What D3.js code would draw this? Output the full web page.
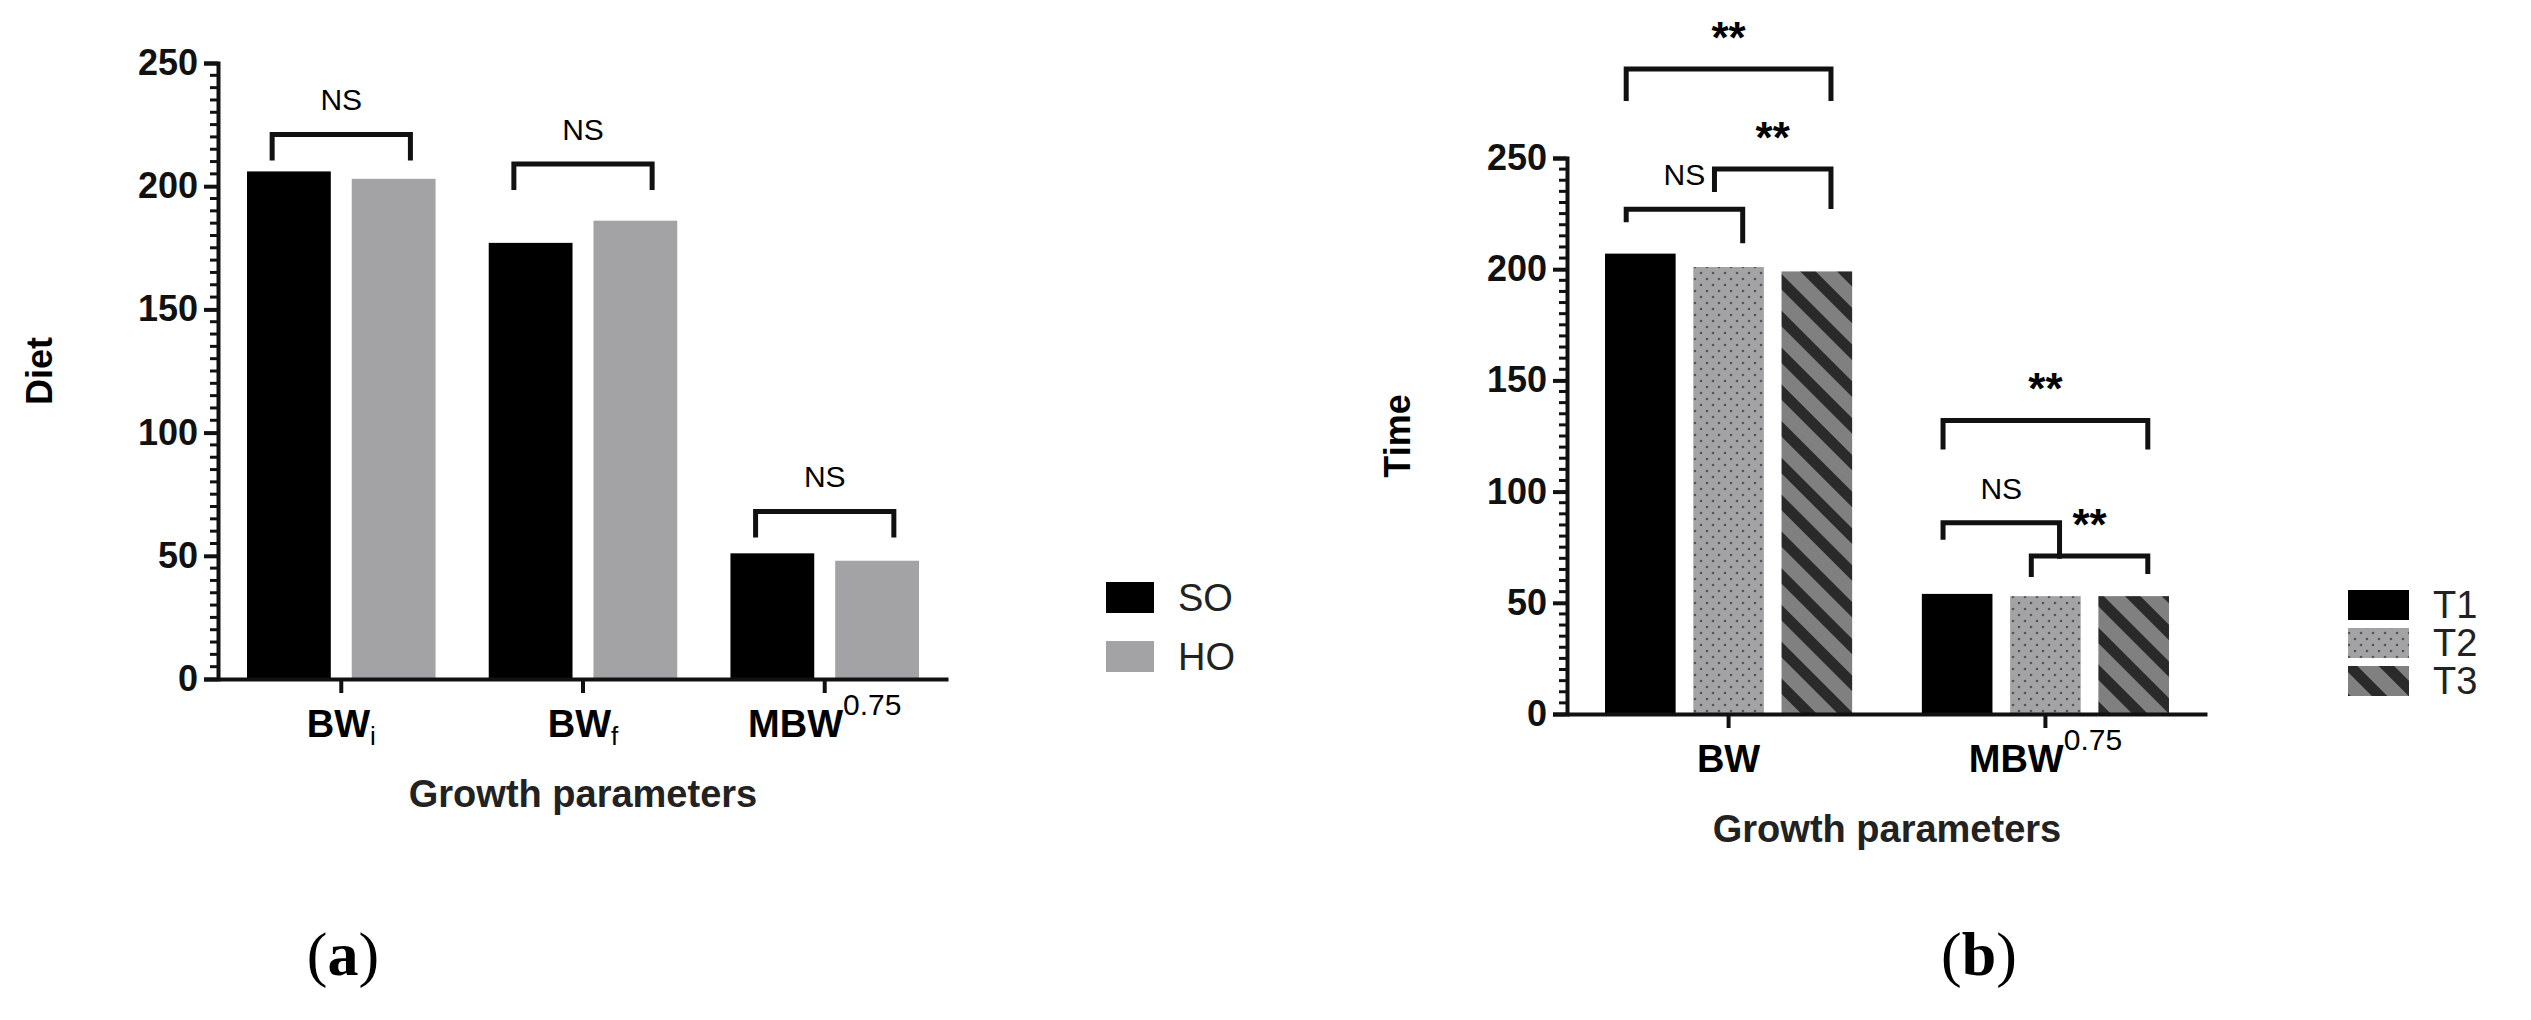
<!DOCTYPE html>
<html><head><meta charset="utf-8">
<script src="https://cdn.jsdelivr.net/npm/d3@7"></script>
<style>body{margin:0;background:#fff}svg{font-family:"Liberation Sans",Arial,sans-serif}</style>
</head><body>
<svg id="fig" width="2531" height="1020"></svg>
<script>
// panel (a) data
var catsA = ["BWi", "BWf", "MBW"];
var groupsA = ["SO", "HO"];
var valsA = {SO: [206, 177, 51], HO: [203, 186, 48]};
// panel (b) data
var catsB = ["BW", "MBW"];
var groupsB = ["T1", "T2", "T3"];
var valsB = {T1: [207, 54], T2: [201, 53], T3: [199, 53]};
var yTicks = [0, 50, 100, 150, 200, 250];

var svg = d3.select("#fig");
var defs = svg.append("defs");
var dots = defs.append("pattern").attr("id", "dots").attr("patternUnits", "userSpaceOnUse").attr("width", 12).attr("height", 12);
dots.append("rect").attr("width", 12).attr("height", 12).attr("fill", "#a3a3a6");
dots.append("circle").attr("cx", 3).attr("cy", 3).attr("r", 1.3).attr("fill", "#555");
dots.append("circle").attr("cx", 9).attr("cy", 9).attr("r", 1.3).attr("fill", "#555");
var stripes = defs.append("pattern").attr("id", "stripes").attr("patternUnits", "userSpaceOnUse")
  .attr("width", 26).attr("height", 26).attr("patternTransform", "rotate(45)");
stripes.append("rect").attr("width", 26).attr("height", 26).attr("fill", "#808080");
stripes.append("rect").attr("width", 26).attr("height", 11).attr("fill", "#2a2a2a");

function labelSub(t, x, y, base, sub, sup) {
  var tx = t.append("text").attr("x", x).attr("y", y).attr("text-anchor", "middle")
    .attr("font-weight", "bold").attr("font-size", 38);
  tx.append("tspan").text(base);
  if (sub) tx.append("tspan").attr("font-weight", "normal").attr("font-size", 26).attr("dy", 8).text(sub);
  if (sup) tx.append("tspan").attr("font-weight", "normal").attr("font-size", 30).attr("dy", -22).text(sup);
}

function panel(o) {
  var g = svg.append("g");
  var y = d3.scaleLinear().domain([0, 250]).range([o.y0, o.y250]);
  var x = d3.scaleBand().domain(o.cats).range([o.ax, o.axEnd]).paddingInner(0.22).paddingOuter(0.12);
  var xs = d3.scaleBand().domain(o.groups).range([0, x.bandwidth()]).paddingInner(0.2);
  o.groups.forEach(function (k) {
    g.selectAll(null).data(o.vals[k]).join("rect")
      .attr("x", (d, i) => x(o.cats[i]) + xs(k)).attr("width", xs.bandwidth())
      .attr("y", d => y(d)).attr("height", d => y(0) - y(d)).attr("fill", o.fill[k]);
  });
  var ya = g.append("g").attr("transform", `translate(${o.ax},0)`)
    .call(d3.axisLeft(y).tickValues(yTicks).tickSize(14).tickPadding(6));
  ya.selectAll("text").attr("font-size", 36).attr("font-weight", "bold").attr("fill", "#111");
  var minor = d3.range(0, 251, 5).filter(v => v % 50 != 0);
  g.selectAll(null).data(minor).join("line").attr("x1", o.ax - 8).attr("x2", o.ax)
    .attr("y1", d => y(d)).attr("y2", d => y(d)).attr("stroke", "#111").attr("stroke-width", 3);
  var xa = g.append("g").attr("transform", `translate(0,${o.y0})`)
    .call(d3.axisBottom(x).tickSize(14).tickSizeOuter(0).tickFormat(""));
  g.selectAll(".domain, .tick line").attr("stroke", "#111").attr("stroke-width", 4);
  o.cats.forEach(function (c, i) {
    var l = o.labels[i];
    labelSub(g, x(c) + x.bandwidth() / 2, o.y0 + 58, l[0], l[1], l[2]);
  });
  g.append("text").attr("x", (o.ax + o.axEnd) / 2).attr("y", o.y0 + 128).attr("text-anchor", "middle")
    .attr("font-weight", "bold").attr("font-size", 38).attr("fill", "#222").text("Growth parameters");
  g.append("text").attr("transform", `translate(${o.ytx},${(o.y0 + o.y250) / 2}) rotate(-90)`)
    .attr("text-anchor", "middle").attr("font-weight", "bold").attr("font-size", 36).text(o.ytitle);
  g.append("text").attr("x", o.tagX).attr("y", 975).attr("text-anchor", "middle")
    .attr("font-family", "Liberation Serif, serif").attr("font-size", 62).html(o.tag);
  // brackets
  o.brackets.forEach(function (b) {
    var xl = x(o.cats[b.c]) + xs(o.groups[b.a]) + xs.bandwidth() * 0.3;
    var xr = x(o.cats[b.c]) + xs(o.groups[b.b]) + xs.bandwidth() * 0.7;
    var yb = y(b.v);
    g.append("path").attr("d", `M${xl},${yb + b.ll}V${yb}H${xr}V${yb + b.lr}`)
      .attr("fill", "none").attr("stroke", "#111").attr("stroke-width", 5);
    g.append("text").attr("x", (xl + xr) / 2).attr("y", yb - 24).attr("text-anchor", "middle")
      .attr("font-size", b.t == "NS" ? 30 : 44).attr("font-weight", b.t == "NS" ? "normal" : "bold")
      .attr("dy", b.t == "NS" ? 0 : 8).text(b.t);
  });
  // legend
  o.groups.forEach(function (k, i) {
    g.append("rect").attr("x", o.lx).attr("y", o.ly + i * o.ls).attr("width", o.lw).attr("height", o.lh).attr("fill", o.fill[k]);
    g.append("text").attr("x", o.lx + o.lw + 24).attr("y", o.ly + i * o.ls + o.lh / 2 + 13)
      .attr("font-size", 38).attr("fill", "#222").text(k);
  });
}

panel({cats: catsA, groups: groupsA, vals: valsA, fill: {SO: "#000", HO: "#a3a3a6"},
  ax: 218, axEnd: 948, y0: 679, y250: 63, ytx: 52, ytitle: "Diet", tagX: 343, tag: "(<tspan font-weight='bold'>a</tspan>)",
  labels: [["BW", "i"], ["BW", "f"], ["MBW", null, "0.75"]],
  brackets: [{c: 0, a: 0, b: 1, v: 221, ll: 26, lr: 26, t: "NS"}, {c: 1, a: 0, b: 1, v: 209, ll: 26, lr: 26, t: "NS"},
             {c: 2, a: 0, b: 1, v: 68, ll: 26, lr: 26, t: "NS"}],
  lx: 1106, ly: 582, ls: 59, lw: 48, lh: 31});

panel({cats: catsB, groups: groupsB, vals: valsB, fill: {T1: "#000", T2: "url(#dots)", T3: "url(#stripes)"},
  ax: 1567, axEnd: 2207, y0: 714, y250: 158, ytx: 1410, ytitle: "Time", tagX: 1979, tag: "(<tspan font-weight='bold'>b</tspan>)",
  labels: [["BW"], ["MBW", null, "0.75"]],
  brackets: [{c: 0, a: 0, b: 2, v: 290, ll: 32, lr: 32, t: "**"}, {c: 0, a: 0, b: 1, v: 227, ll: 13, lr: 34, t: "NS"},
             {c: 0, a: 1, b: 2, v: 245, ll: 23, lr: 40, t: "**"}, {c: 1, a: 0, b: 2, v: 132, ll: 29, lr: 29, t: "**"},
             {c: 1, a: 0, b: 1, v: 86, ll: 17, lr: 36, t: "NS"}, {c: 1, a: 1, b: 2, v: 71, ll: 21, lr: 18, t: "**"}],
  lx: 2348, ly: 590, ls: 38, lw: 61, lh: 30});
</script>
</body></html>
